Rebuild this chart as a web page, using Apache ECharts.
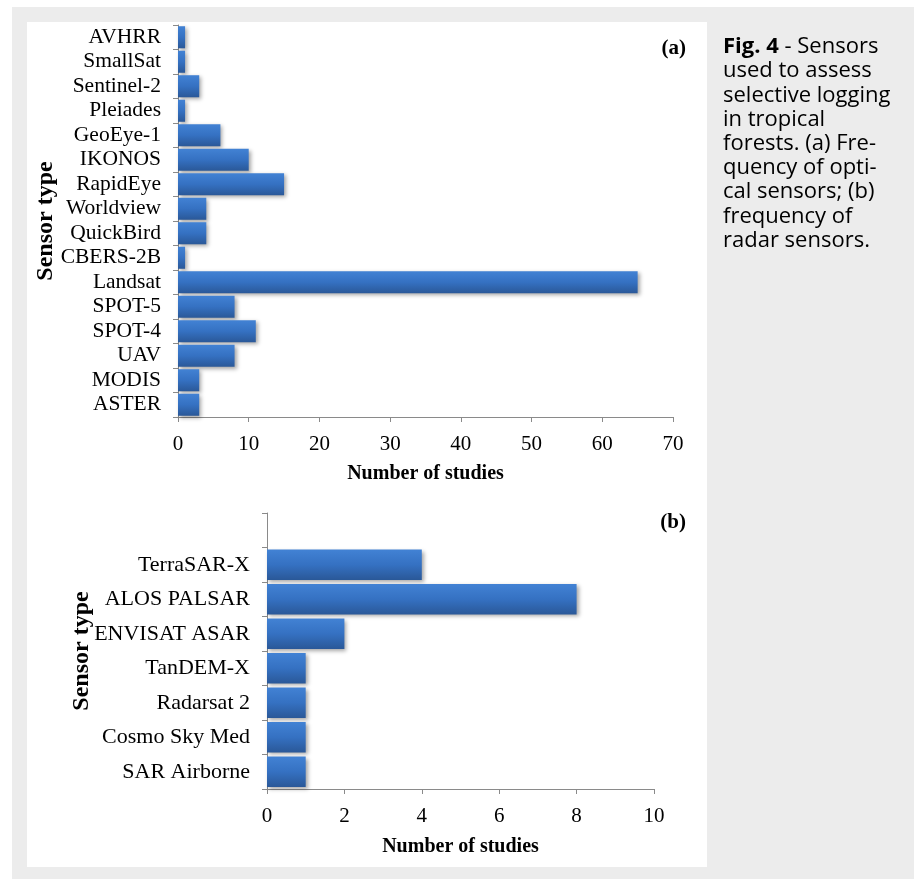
<!DOCTYPE html>
<html>
<head>
<meta charset="utf-8">
<script src="https://cdn.jsdelivr.net/npm/echarts@6/dist/echarts.min.js"></script>
<style>
html,body{margin:0;padding:0;background:#ffffff;}
#chart{width:914px;height:879px;}
</style>
</head>
<body>
<div id="chart"></div>
<script>
// Panel (a): optical sensors, listed top to bottom
const opticalSensors = ['AVHRR','SmallSat','Sentinel-2','Pleiades','GeoEye-1','IKONOS','RapidEye','Worldview','QuickBird','CBERS-2B','Landsat','SPOT-5','SPOT-4','UAV','MODIS','ASTER'];
const opticalCounts  = [1, 1, 3, 1, 6, 10, 15, 4, 4, 1, 65, 8, 11, 8, 3, 3];
const opticalTicks = {min: 0, max: 70, interval: 10};

// Panel (b): radar sensors, listed top to bottom (first slot is empty)
const radarSensors = ['', 'TerraSAR-X', 'ALOS PALSAR', 'ENVISAT ASAR', 'TanDEM-X', 'Radarsat 2', 'Cosmo Sky Med', 'SAR Airborne'];
const radarCounts  = [null, 4, 8, 2, 1, 1, 1, 1];
const radarTicks = {min: 0, max: 10, interval: 2};

const captionLines = [
  [{t:'Fig. 4', b:true}, {t:' - Sensors', b:false}],
  [{t:'used to assess'}],
  [{t:'selective logging'}],
  [{t:'in tropical'}],
  [{t:'forests. (a) Fre-'}],
  [{t:'quency of opti-'}],
  [{t:'cal sensors; (b)'}],
  [{t:'frequency of'}],
  [{t:'radar sensors.'}]
];

const chart = echarts.init(document.getElementById('chart'));
const serif = '"Liberation Serif", "Times New Roman", serif';
const sans = '"Open Sans", "Noto Sans", sans-serif';
const axisGray = '#8a8a8a';

const barStyle = {
  color: new echarts.graphic.LinearGradient(0, 0, 0, 1, [
    {offset: 0, color: '#4282d4'},
    {offset: 0.5, color: '#3571c2'},
    {offset: 1, color: '#2a5898'}
  ]),
  shadowColor: 'rgba(0,0,0,0.35)',
  shadowBlur: 4,
  shadowOffsetX: 2,
  shadowOffsetY: 2
};

function xAxisCfg(grid, ticks, gap) {
  return {
    type: 'value', gridIndex: grid, min: ticks.min, max: ticks.max, interval: ticks.interval,
    name: 'Number of studies', nameLocation: 'middle', nameGap: gap, nameMoveOverlap: false,
    nameTextStyle: {fontFamily: serif, fontWeight: 'bold', fontSize: 20, color: '#000'},
    axisLine: {show: true, lineStyle: {color: axisGray, width: 1}},
    axisTick: {show: true, length: 5, lineStyle: {color: axisGray}},
    axisLabel: {fontFamily: serif, fontSize: 21, color: '#000', margin: 17},
    splitLine: {show: false}
  };
}
function yAxisCfg(grid, cats, gap, fs) {
  return {
    type: 'category', gridIndex: grid, data: cats, inverse: true,
    name: 'Sensor type', nameLocation: 'middle', nameGap: gap, nameRotate: 90, nameMoveOverlap: false,
    nameTextStyle: {fontFamily: serif, fontWeight: 'bold', fontSize: 24, color: '#000'},
    axisLine: {show: true, lineStyle: {color: axisGray, width: 1}},
    axisTick: {show: true, length: 5, lineStyle: {color: axisGray}},
    axisLabel: {fontFamily: serif, fontSize: fs, color: '#000', margin: 17, interval: 0},
    splitLine: {show: false}
  };
}

const captionGraphics = captionLines.map((line, i) => {
  const rich = {n: {fontFamily: sans, fontSize: 22, color: '#1a1a1a'}, b: {fontFamily: sans, fontSize: 22, fontWeight: 'bold', color: '#1a1a1a'}};
  const txt = line.map(seg => '{' + (seg.b ? 'b' : 'n') + '|' + seg.t + '}').join('');
  return {
    type: 'text', left: 723, top: 36 + i * 24.2,
    style: {text: txt, rich: rich, fontFamily: sans, fontSize: 22}
  };
});

chart.setOption({
  backgroundColor: '#ffffff',
  animation: false,
  graphic: [
    {type: 'rect', shape: {x: 12, y: 7, width: 902, height: 872}, style: {fill: '#ececec'}, z: -10},
    {type: 'rect', shape: {x: 27, y: 22, width: 680, height: 845}, style: {fill: '#ffffff'}, z: -9},
    {type: 'text', right: 914 - 686, top: 38, style: {text: '(a)', fontFamily: serif, fontWeight: 'bold', fontSize: 21, fill: '#000'}},
    {type: 'text', right: 914 - 686, top: 512, style: {text: '(b)', fontFamily: serif, fontWeight: 'bold', fontSize: 21, fill: '#000'}}
  ].concat(captionGraphics),
  grid: [
    {left: 178, right: 241, top: 25, bottom: 462, containLabel: false},
    {left: 267, right: 260, top: 513, bottom: 90, containLabel: false}
  ],
  xAxis: [xAxisCfg(0, opticalTicks, 47), xAxisCfg(1, radarTicks, 48)],
  yAxis: [yAxisCfg(0, opticalSensors, 120, 21.5), yAxisCfg(1, radarSensors, 173, 22)],
  series: [
    {type: 'bar', xAxisIndex: 0, yAxisIndex: 0, data: opticalCounts, barCategoryGap: '10%', itemStyle: barStyle},
    {type: 'bar', xAxisIndex: 1, yAxisIndex: 1, data: radarCounts, barCategoryGap: '12%', itemStyle: barStyle}
  ]
});
</script>
</body>
</html>
